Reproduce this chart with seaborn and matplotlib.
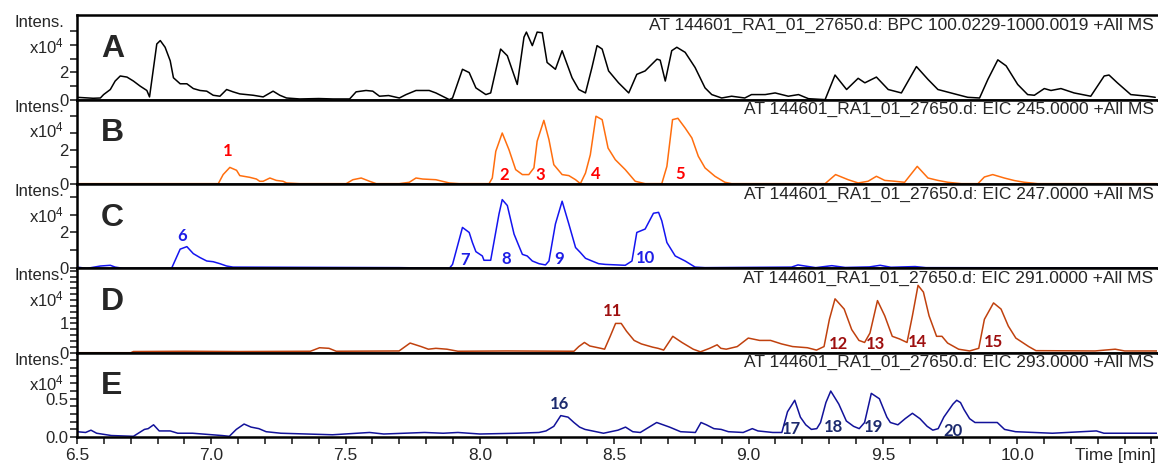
import numpy as np
import pandas as pd
import matplotlib
matplotlib.use("Agg")
import matplotlib.pyplot as plt
import seaborn as sns

# ---- chromatogram traces (time in min, intensity in x10^4) ----
bpc_time = [6.50, 6.56, 6.587, 6.599, 6.624, 6.642, 6.661, 6.686, 6.71, 6.735, 6.76, 6.77, 6.785, 6.797,
            6.81, 6.828, 6.847, 6.859, 6.884, 6.909, 6.933, 6.958, 6.983, 7.007, 7.032, 7.057, 7.081,
            7.106, 7.156, 7.193, 7.23, 7.255, 7.28, 7.329, 7.40, 7.453, 7.515, 7.539, 7.576, 7.601,
            7.626, 7.66, 7.70, 7.725, 7.762, 7.811, 7.836, 7.886, 7.898, 7.935, 7.96, 7.985, 8.022,
            8.04, 8.077, 8.102, 8.139, 8.164, 8.173, 8.195, 8.213, 8.232, 8.25, 8.281, 8.306, 8.343,
            8.368, 8.393, 8.417, 8.436, 8.455, 8.479, 8.516, 8.554, 8.584, 8.615, 8.659, 8.671, 8.69,
            8.714, 8.733, 8.764, 8.801, 8.838, 8.863, 8.90, 8.937, 8.986, 9.011, 9.062, 9.099, 9.148,
            9.186, 9.223, 9.285, 9.322, 9.365, 9.408, 9.433, 9.476, 9.52, 9.569, 9.625, 9.668, 9.705,
            9.767, 9.816, 9.86, 9.891, 9.928, 9.959, 10.002, 10.039, 10.064, 10.101, 10.126, 10.163,
            10.212, 10.274, 10.324, 10.342, 10.373, 10.423, 10.485, 10.514]
bpc_int = [0.17, 0.10, 0.12, 0.37, 0.74, 1.36, 1.73, 1.65, 1.36, 0.99, 0.67, 0.20, 2.35, 4.07,
           4.32, 3.83, 2.84, 1.60, 1.16, 1.16, 0.81, 0.67, 0.62, 0.32, 0.25, 0.74, 0.57,
           0.42, 0.32, 0.20, 0.62, 0.32, 0.12, 0.05, 0.08, 0.05, 0.05, 0.57, 0.67, 0.62,
           0.25, 0.30, 0.12, 0.37, 0.67, 0.67, 0.49, 0.00, 0.12, 2.22, 1.98, 0.86, 0.37,
           0.49, 3.70, 3.21, 1.11, 4.57, 4.94, 3.95, 4.94, 4.89, 2.72, 2.22, 3.58, 1.60,
           0.74, 0.49, 2.35, 3.95, 3.70, 2.10, 1.23, 0.49, 1.85, 2.10, 2.96, 2.89, 1.36,
           3.58, 3.83, 3.46, 2.35, 0.86, 0.37, 0.12, 0.25, 0.12, 0.37, 0.37, 0.49, 0.25,
           0.37, 0.07, 0.00, 1.80, 0.74, 1.56, 1.23, 1.65, 0.74, 0.49, 2.42, 1.48, 0.74,
           0.42, 0.17, 0.12, 1.48, 2.91, 2.47, 1.11, 0.37, 0.32, 0.81, 0.67, 0.81,
           0.49, 0.25, 1.73, 1.80, 1.23, 0.37, 0.25, 0.17]

eic245_time = [6.50, 7.026, 7.044, 7.069, 7.094, 7.106, 7.143, 7.168, 7.18, 7.193, 7.218, 7.242, 7.267,
               7.28, 7.329, 7.502, 7.527, 7.558, 7.589, 7.614, 7.70, 7.737, 7.762, 7.787, 7.836,
               7.886, 7.923, 8.034, 8.046, 8.059, 8.083, 8.108, 8.133, 8.158, 8.182, 8.201, 8.213,
               8.238, 8.257, 8.275, 8.306, 8.331, 8.356, 8.374, 8.393, 8.411, 8.432, 8.455, 8.477,
               8.504, 8.541, 8.578, 8.615, 8.677, 8.696, 8.717, 8.737, 8.764, 8.789, 8.813, 8.838,
               8.875, 8.912, 8.937, 9.285, 9.324, 9.371, 9.408, 9.445, 9.476, 9.507, 9.544, 9.581,
               9.628, 9.668, 9.705, 9.742, 9.792, 9.854, 9.878, 9.909, 9.952, 9.99, 10.027, 10.076,
               10.52]
eic245_int = [0.02, 0.02, 0.55, 0.97, 0.80, 0.49, 0.39, 0.29, 0.16, 0.16, 0.35, 0.21, 0.16,
              0.06, 0.02, 0.02, 0.25, 0.35, 0.16, 0.02, 0.02, 0.10, 0.35, 0.29, 0.25,
              0.06, 0.02, 0.02, 0.35, 1.91, 2.98, 2.01, 0.84, 0.55, 0.55, 0.94, 2.50,
              3.72, 2.59, 1.13, 0.55, 0.49, 0.25, 0.02, 0.64, 1.71, 3.96, 3.76, 2.10,
              1.42, 0.84, 0.16, 0.02, 0.02, 1.03, 3.76, 3.84, 3.27, 2.69, 1.62, 0.94,
              0.45, 0.10, 0.02, 0.02, 0.55, 0.25, 0.06, 0.16, 0.45, 0.21, 0.16, 0.10,
              1.03, 0.35, 0.21, 0.10, 0.02, 0.02, 0.41, 0.55, 0.35, 0.20, 0.10, 0.02,
              0.02]

eic247_time = [6.50, 6.537, 6.587, 6.624, 6.642, 6.673, 6.852, 6.884, 6.909, 6.933, 6.958, 6.983, 7.007,
               7.032, 7.057, 7.081, 7.70, 7.886, 7.898, 7.935, 7.96, 7.972, 7.985, 8.009, 8.015,
               8.04, 8.053, 8.071, 8.083, 8.102, 8.127, 8.145, 8.158, 8.176, 8.195, 8.22, 8.244,
               8.257, 8.281, 8.306, 8.331, 8.356, 8.374, 8.393, 8.417, 8.442, 8.467, 8.541, 8.566,
               8.584, 8.615, 8.646, 8.665, 8.677, 8.696, 8.727, 8.764, 8.801, 8.838, 9.16, 9.184,
               9.25, 9.31, 9.36, 9.45, 9.49, 9.53, 9.62, 9.66, 10.52]
eic247_int = [0.07, 0.00, 0.13, 0.17, 0.07, 0.00, 0.00, 1.07, 1.21, 0.82, 0.60, 0.41, 0.37,
              0.26, 0.13, 0.07, 0.04, 0.00, 0.22, 2.28, 2.00, 1.44, 0.93, 0.69, 0.45,
              0.45, 1.53, 3.03, 3.83, 3.50, 1.91, 1.25, 0.78, 0.69, 0.41, 0.26, 0.19,
              0.41, 2.47, 3.74, 2.47, 1.16, 0.88, 0.56, 0.41, 0.26, 0.22, 0.17, 0.41,
              2.00, 2.19, 3.07, 3.12, 2.65, 1.44, 0.69, 0.41, 0.07, 0.04, 0.07, 0.19,
              0.04, 0.15, 0.05, 0.08, 0.17, 0.06, 0.10, 0.04, 0.02]

eic291_time = [6.50, 6.70, 6.71, 6.90, 7.10, 7.369, 7.403, 7.438, 7.465, 7.699, 7.74, 7.781, 7.808,
               7.836, 7.877, 7.918, 8.10, 8.35, 8.368, 8.389, 8.409, 8.45, 8.464, 8.485, 8.505,
               8.526, 8.546, 8.574, 8.601, 8.643, 8.663, 8.684, 8.718, 8.752, 8.794, 8.821, 8.855,
               8.883, 8.897, 8.917, 8.958, 8.999, 9.041, 9.082, 9.123, 9.164, 9.219, 9.253, 9.281,
               9.301, 9.322, 9.356, 9.384, 9.411, 9.432, 9.452, 9.48, 9.507, 9.535, 9.562, 9.59,
               9.61, 9.631, 9.651, 9.672, 9.70, 9.72, 9.741, 9.782, 9.823, 9.857, 9.878, 9.912,
               9.94, 9.967, 9.995, 10.043, 10.07, 10.29, 10.365, 10.40, 10.52]
eic291_int = [0.00, 0.00, 0.04, 0.05, 0.04, 0.05, 0.17, 0.15, 0.05, 0.06, 0.33, 0.21, 0.12,
              0.15, 0.12, 0.05, 0.06, 0.05, 0.21, 0.35, 0.23, 0.15, 0.12, 0.56, 1.00,
              1.00, 0.73, 0.42, 0.30, 0.19, 0.15, 0.09, 0.56, 0.35, 0.12, 0.03, 0.15,
              0.27, 0.15, 0.12, 0.21, 0.50, 0.42, 0.42, 0.30, 0.21, 0.17, 0.09, 0.21,
              1.14, 1.84, 1.49, 0.79, 0.42, 0.35, 0.67, 1.78, 1.26, 0.56, 0.47, 0.35,
              1.26, 2.30, 2.07, 1.26, 0.56, 0.56, 0.33, 0.12, 0.06, 0.15, 1.14, 1.70,
              1.49, 0.91, 0.50, 0.21, 0.07, 0.06, 0.12, 0.06, 0.06]

eic293_time = [6.50, 6.532, 6.552, 6.573, 6.628, 6.71, 6.751, 6.765, 6.785, 6.806, 6.847, 6.875, 6.93,
               7.04, 7.067, 7.093, 7.122, 7.148, 7.177, 7.204, 7.259, 7.451, 7.589, 7.642, 7.794,
               7.863, 7.918, 8.00, 8.138, 8.22, 8.246, 8.275, 8.301, 8.328, 8.35, 8.371, 8.391,
               8.46, 8.514, 8.542, 8.569, 8.597, 8.658, 8.706, 8.747, 8.802, 8.823, 8.843, 8.871,
               8.898, 8.925, 8.98, 9.014, 9.035, 9.09, 9.124, 9.145, 9.172, 9.193, 9.213, 9.234,
               9.254, 9.268, 9.288, 9.306, 9.336, 9.364, 9.391, 9.412, 9.432, 9.457, 9.487, 9.515,
               9.528, 9.556, 9.583, 9.61, 9.638, 9.665, 9.686, 9.706, 9.727, 9.747, 9.761, 9.775,
               9.789, 9.802, 9.823, 9.843, 9.926, 9.953, 9.994, 10.131, 10.295, 10.323, 10.52]
eic293_int = [0.07, 0.06, 0.09, 0.05, 0.02, 0.01, 0.10, 0.11, 0.16, 0.08, 0.08, 0.05, 0.05,
              0.02, 0.01, 0.10, 0.17, 0.13, 0.11, 0.07, 0.05, 0.03, 0.06, 0.04, 0.06,
              0.05, 0.06, 0.04, 0.05, 0.06, 0.08, 0.14, 0.28, 0.26, 0.19, 0.13, 0.10,
              0.05, 0.09, 0.13, 0.07, 0.06, 0.19, 0.13, 0.07, 0.06, 0.19, 0.16, 0.11,
              0.10, 0.07, 0.06, 0.11, 0.08, 0.06, 0.06, 0.33, 0.48, 0.26, 0.16, 0.10,
              0.11, 0.19, 0.45, 0.60, 0.43, 0.21, 0.14, 0.11, 0.19, 0.57, 0.50, 0.26,
              0.19, 0.16, 0.24, 0.31, 0.24, 0.14, 0.09, 0.11, 0.26, 0.36, 0.43, 0.48,
              0.45, 0.36, 0.24, 0.19, 0.19, 0.10, 0.07, 0.05, 0.08, 0.05, 0.05]

# ---- peak labels ----
b_peaks = ["1", "2", "3", "4", "5"]
b_peak_t = [7.062, 8.09, 8.226, 8.432, 8.745]
b_peak_y = [1.91, 0.55, 0.50, 0.60, 0.60]
c_peaks = ["6", "7", "8", "9", "10"]
c_peak_t = [6.892, 7.944, 8.096, 8.296, 8.615]
c_peak_y = [1.81, 0.47, 0.54, 0.54, 0.56]
d_peaks = ["11", "12", "13", "14", "15"]
d_peak_t = [8.494, 9.336, 9.473, 9.628, 9.912]
d_peak_y = [1.43, 0.30, 0.30, 0.38, 0.38]
e_peaks = ["16", "17", "18", "19", "20"]
e_peak_t = [8.297, 9.158, 9.316, 9.466, 9.761]
e_peak_y = [0.43, 0.11, 0.13, 0.13, 0.08]

file_name = "AT 144601_RA1_01_27650.d"
trace_titles = [file_name + ": BPC 100.0229-1000.0019 +All MS",
                file_name + ": EIC 245.0000 +All MS",
                file_name + ": EIC 247.0000 +All MS",
                file_name + ": EIC 291.0000 +All MS",
                file_name + ": EIC 293.0000 +All MS"]
panel_letters = ["A", "B", "C", "D", "E"]

sns.set_style("white")
plt.rcParams["font.family"] = ["Liberation Sans", "DejaVu Sans"]
plt.rcParams["mathtext.default"] = "regular"

traces = [(bpc_time, bpc_int, "black", None),
          (eic245_time, eic245_int, "#FF6E0E", (b_peaks, b_peak_t, b_peak_y, "#FF0000")),
          (eic247_time, eic247_int, "#1414F0", (c_peaks, c_peak_t, c_peak_y, "#1E1EE6")),
          (eic291_time, eic291_int, "#C0410E", (d_peaks, d_peak_t, d_peak_y, "#9E1010")),
          (eic293_time, eic293_int, "#12129A", (e_peaks, e_peak_t, e_peak_y, "#1C2A6E"))]
ylims = [6.17, 4.93, 4.7, 2.88, 1.1]
yticks = [[0, 1, 2, 3, 4, 5], [0, 1, 2, 3, 4], [0, 1, 2, 3, 4],
          list(np.round(np.arange(0, 2.81, 0.2), 1)), list(np.round(np.arange(0, 1.01, 0.1), 1))]
ylabels = [{0: "0", 2: "2"}, {0: "0", 2: "2"}, {0: "0", 2: "2"}, {0: "0", 1: "1"}, {0: "0.0", 0.5: "0.5"}]

fig, axes = plt.subplots(5, 1, figsize=(11.58, 4.63), dpi=100, sharex=True)
fig.subplots_adjust(left=0.0665, right=0.999, top=0.967, bottom=0.056, hspace=0)

for i, ax in enumerate(axes):
    t, y, col, peaks = traces[i]
    df = pd.DataFrame({"time": t, "intens": y})
    sns.lineplot(data=df, x="time", y="intens", color=col, lw=1.1, ax=ax, sort=False)
    ax.set_xlim(6.5, 10.52)
    ax.set_ylim(0, ylims[i])
    ax.set_xlabel("")
    ax.set_ylabel("")
    ax.set_yticks(yticks[i])
    ax.set_yticklabels([ylabels[i].get(v, "") for v in yticks[i]], fontsize=12)
    ax.tick_params(axis="y", direction="out", length=5, width=1.2, pad=1, left=True)
    for s in ["left", "bottom", "top"]:
        ax.spines[s].set_linewidth(1.8)
        ax.spines[s].set_color("black")
    ax.spines["right"].set_visible(False)
    ax.text(-0.012, 1.0, "Intens.", transform=ax.transAxes, ha="right", va="top", fontsize=12)
    ax.text(-0.012, 0.63, "x10$^{4}$", transform=ax.transAxes, ha="right", va="center", fontsize=12)
    ax.text(0.022, 0.6, panel_letters[i], transform=ax.transAxes, ha="left", va="center",
            fontsize=23, fontweight="bold")
    ax.text(0.997, 0.97, trace_titles[i], transform=ax.transAxes, ha="right", va="top", fontsize=12.5)
    if peaks is not None:
        names, pt, py, pc = peaks
        for n, x0, y0 in zip(names, pt, py):
            ax.text(x0, y0, n, color=pc, fontsize=12, fontweight="bold",
                    ha="center", va="center", family=["Lato", "DejaVu Sans"])
    if i < 4:
        ax.tick_params(axis="x", bottom=False, labelbottom=False)

ax = axes[-1]
ax.set_xticks([6.5, 7.0, 7.5, 8.0, 8.5, 9.0, 9.5, 10.0])
ax.set_xticklabels(["6.5", "7.0", "7.5", "8.0", "8.5", "9.0", "9.5", "10.0"], fontsize=12.5)
ax.set_xticks(np.round(np.arange(6.5, 10.51, 0.1), 1), minor=True)
ax.tick_params(axis="x", which="both", direction="out", length=5, width=1.2, bottom=True, pad=3)
ax.text(0.999, -0.13, "Time [min]", transform=ax.transAxes, ha="right", va="top", fontsize=12.5)

fig.savefig("out.png", dpi=100)
